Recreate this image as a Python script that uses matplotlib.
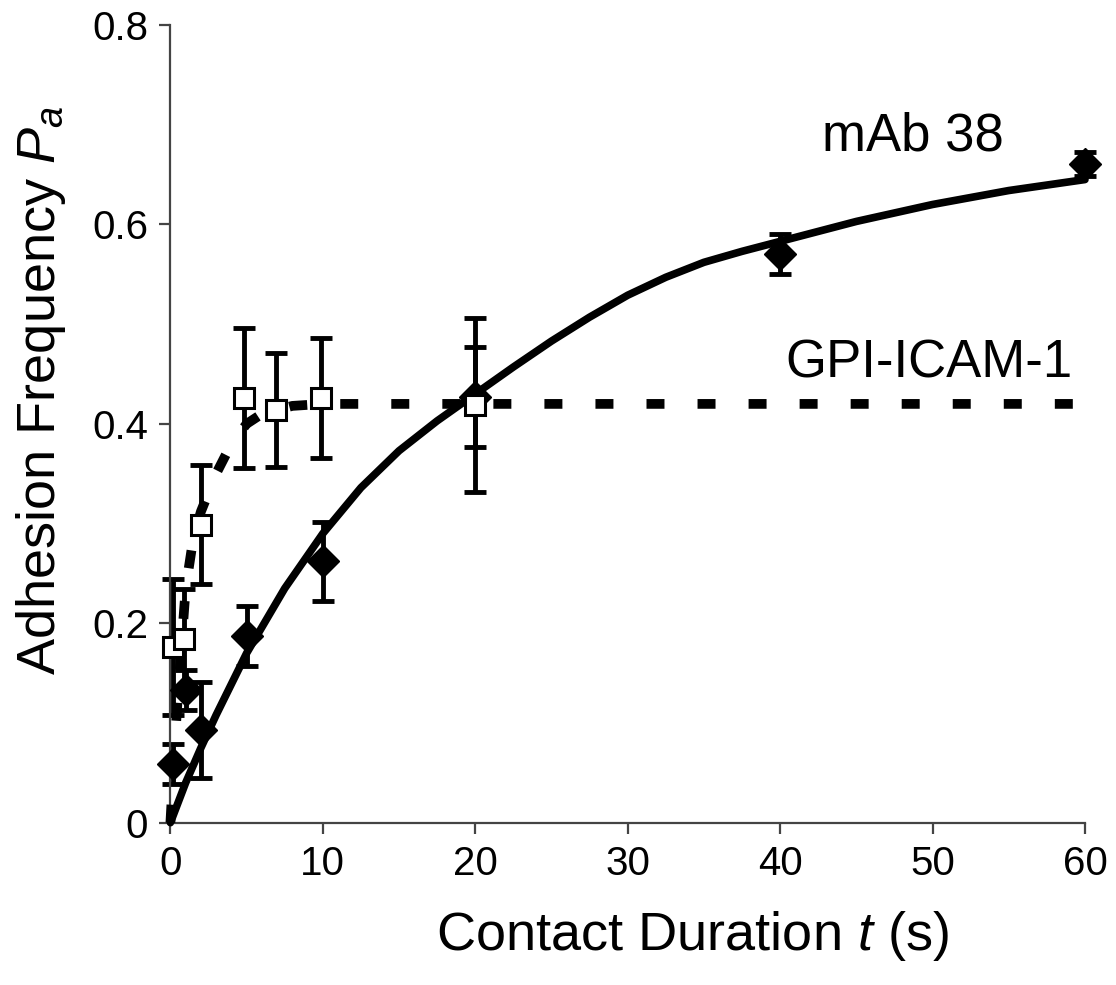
import matplotlib
matplotlib.use("Agg")
import matplotlib.pyplot as plt

plt.rcParams['font.family'] = ['Liberation Sans', 'DejaVu Sans']
plt.rcParams['mathtext.fontset'] = 'custom'
plt.rcParams['mathtext.rm'] = 'Liberation Sans'
plt.rcParams['mathtext.it'] = 'Liberation Sans:italic'

# mAb 38 measurements (filled diamonds)
mab_t = [0.2, 1, 2, 5, 10, 20, 40, 60]
mab_p = [0.059, 0.133, 0.093, 0.187, 0.262, 0.427, 0.570, 0.661]
mab_err = [0.02, 0.02, 0.048, 0.03, 0.04, 0.05, 0.02, 0.012]

# GPI-ICAM-1 measurements (open squares)
gpi_t = [0.2, 0.9, 2, 4.8, 6.9, 9.9, 20]
gpi_p = [0.176, 0.184, 0.299, 0.426, 0.414, 0.426, 0.419]
gpi_err = [0.068, 0.05, 0.06, 0.07, 0.057, 0.06, 0.087]

# fitted curves
mab_fit_t = [0, 1, 2, 3, 5, 7.5, 10, 12.5, 15, 17.5, 20, 22.5, 25, 27.5, 30,
             32.5, 35, 37.5, 40, 45, 50, 55, 60]
mab_fit_p = [0, 0.04, 0.075, 0.108, 0.17, 0.235, 0.29, 0.336, 0.373, 0.403, 0.43,
             0.457, 0.483, 0.507, 0.529, 0.547, 0.562, 0.573, 0.583, 0.603,
             0.62, 0.634, 0.645]
gpi_fit_t = [0, 0.25, 0.5, 1, 1.5, 2, 3, 4, 5, 6, 8, 10, 60]
gpi_fit_p = [0, 0.07, 0.13, 0.235, 0.285, 0.312, 0.35, 0.38, 0.40, 0.41, 0.418, 0.42, 0.42]

fig = plt.figure(figsize=(11.16, 9.85), dpi=100)
ax = fig.add_axes([0.1527, 0.1648, 0.8195, 0.8098])

# error bars first
ax.errorbar(gpi_t, gpi_p, yerr=gpi_err, fmt='none', ecolor='black',
            elinewidth=3.5, capsize=8, capthick=3.5, clip_on=False, zorder=2)
ax.errorbar(mab_t, mab_p, yerr=mab_err, fmt='none', ecolor='black',
            elinewidth=3.5, capsize=8, capthick=3.5, clip_on=False, zorder=2)

# fits
ax.plot(gpi_fit_t, gpi_fit_p, color='black', lw=7, dashes=(1.85, 3.4),
        dash_capstyle='butt', clip_on=False, zorder=3)
ax.plot(mab_fit_t, mab_fit_p, color='black', lw=5.5, solid_capstyle='round',
        solid_joinstyle='round', clip_on=False, zorder=3)

# markers
ax.plot(mab_t, mab_p, 'D', color='black', markersize=16, clip_on=False, zorder=4)
ax.plot(gpi_t, gpi_p, 's', markerfacecolor='white', markeredgecolor='black',
        markeredgewidth=2.2, markersize=14, clip_on=False, zorder=5)

ax.text(48.7, 0.688, 'mAb 38', fontsize=38, ha='center', va='center')
ax.text(49.8, 0.461, 'GPI-ICAM-1', fontsize=38, ha='center', va='center')

ax.set_xlim(0, 60)
ax.set_ylim(0, 0.8)
ax.set_xticks([0, 10, 20, 30, 40, 50, 60])
ax.set_yticks([0, 0.2, 0.4, 0.6, 0.8])
ax.set_yticklabels(['0', '0.2', '0.4', '0.6', '0.8'])

for side in ['top', 'right']:
    ax.spines[side].set_visible(False)
for side in ['left', 'bottom']:
    ax.spines[side].set_color('#444444')
    ax.spines[side].set_linewidth(1.6)
ax.tick_params(direction='out', length=8, width=1.6, color='#444444',
               labelsize=29, pad=8)

ax.set_xlabel(r'Contact Duration $t$ (s)', fontsize=39)
ax.set_ylabel(r'Adhesion Frequency $P_a$', fontsize=39)
ax.xaxis.set_label_coords(0.571, -0.108)
ax.yaxis.set_label_coords(-0.112, 0.542)

fig.savefig('out.png', dpi=100)
